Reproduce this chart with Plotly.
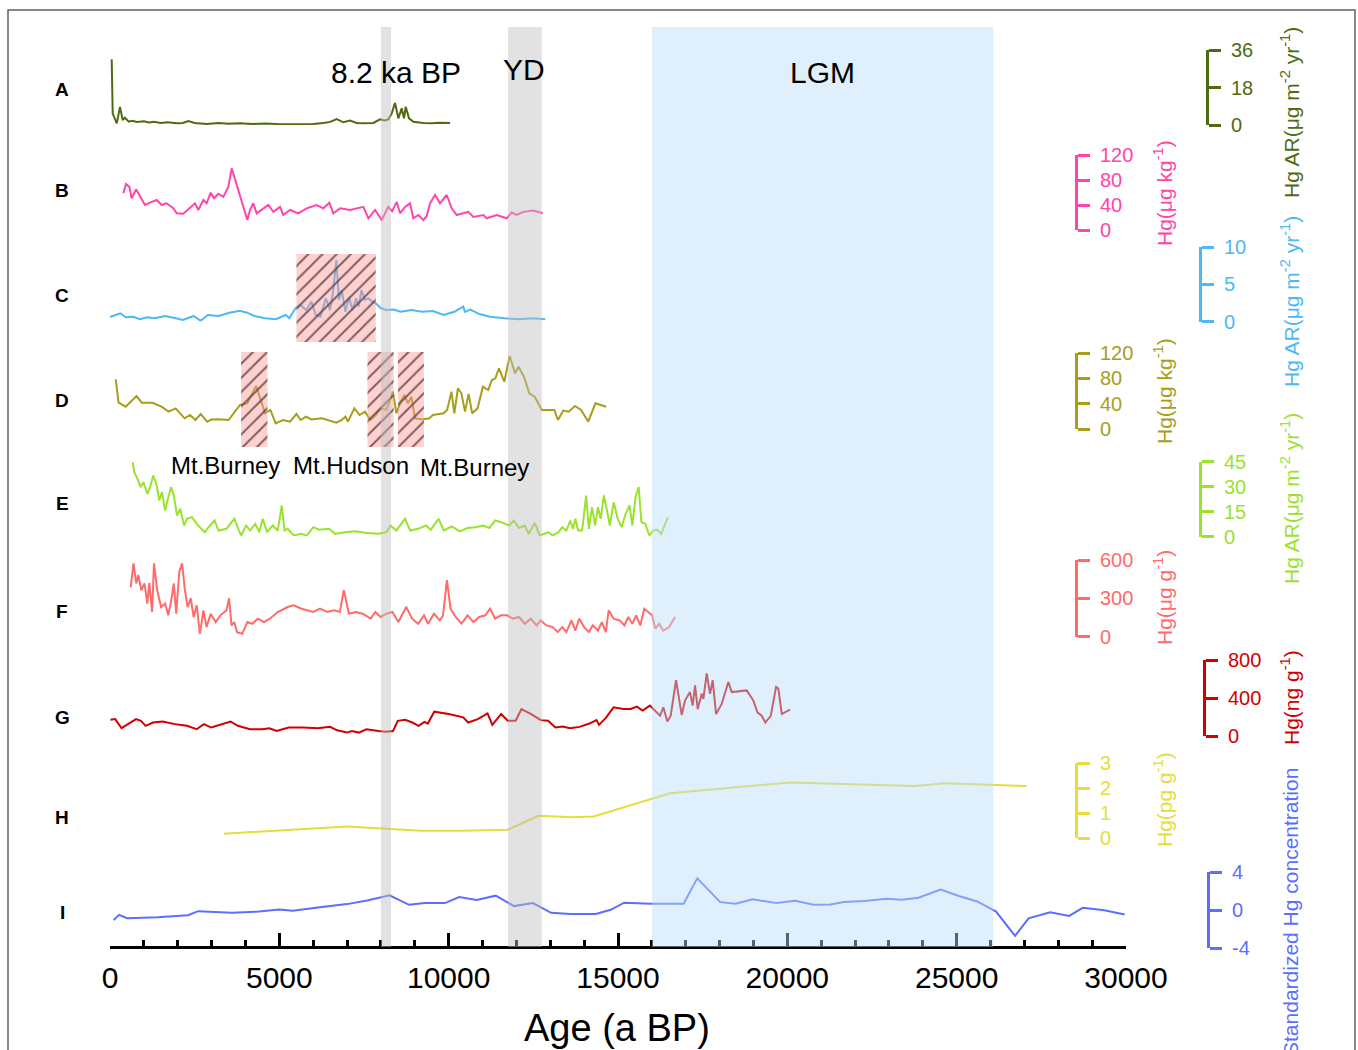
import plotly.graph_objects as go

W, H = 1358, 1050
FONT = "Arial, Liberation Sans, sans-serif"


def px_x(x):
    return x / W


def px_y(y):
    return (H - y) / H


# ---------------- data (age in a BP, values) ----------------
A_age = [50, 80, 200, 295, 375, 440, 555, 650, 800, 1000,
         1150, 1300, 1500, 1700, 1969, 2150, 2313, 2500, 2855, 3200,
         3500, 3839, 4200, 4600, 5000, 5315, 5700, 6000, 6300, 6500,
         6693, 6890, 7087, 7284, 7500, 7776, 7973, 8100, 8219, 8317,
         8416, 8514, 8612, 8682, 8731, 8830, 8958, 9100, 9250, 9500,
         9750, 10040]
A_val = [31.6, 5.5, 0.8, 8.7, 2.4, 3.5, 1.6, 2.0, 1.4, 1.8,
         1.2, 1.5, 1.0, 1.3, 0.8, 1.0, 1.9, 1.0, 0.5, 0.9,
         0.6, 0.8, 0.5, 0.7, 0.4, 0.4, 0.6, 0.5, 1.0, 1.5,
         2.8, 1.3, 2.1, 1.0, 0.8, 1.0, 2.7, 2.2, 2.7, 5.5,
         10.6, 3.2, 8.0, 3.2, 8.7, 3.2, 1.6, 1.2, 1.0, 0.8,
         1.1, 0.9]

B_age = [394, 472, 571, 640, 768, 886, 1034, 1181, 1378, 1526,
         1673, 1870, 1969, 2165, 2362, 2510, 2608, 2756, 2855, 2973,
         3071, 3199, 3347, 3494, 3593, 3671, 3790, 3937, 4055, 4134,
         4232, 4331, 4528, 4675, 4823, 5020, 5118, 5315, 5561, 5807,
         6103, 6300, 6477, 6595, 6792, 7087, 7481, 7629, 7825, 8022,
         8219, 8330, 8465, 8564, 8711, 8859, 8957, 9105, 9252, 9350,
         9450, 9597, 9745, 9942, 10090, 10237, 10581, 10729, 11024, 11122,
         11418, 11713, 11861, 12009, 12205, 12500, 12777]
B_val = [58.7, 73.6, 69, 50.7, 65, 53, 40, 43.7, 48, 40,
         42.7, 34.7, 26.7, 26, 34.7, 42.7, 32, 48, 42.7, 59.7,
         50.7, 58, 53, 69, 98.7, 85, 64, 37, 16, 32,
         42.7, 26.7, 34.7, 40, 29, 37, 24, 32, 26.7, 34.7,
         40, 34.7, 43.7, 26.7, 34.7, 32, 37, 18.7, 32, 16,
         37, 30, 45, 26.7, 37, 42.7, 18.7, 24, 16, 22,
         42.7, 56, 42.7, 56, 34.7, 24, 29, 21, 24, 18.7,
         24, 18.7, 28, 24, 29, 31, 26.7]

C_age = [-41, 307, 464, 676, 886, 1096, 1308, 1624, 1940, 2152,
         2468, 2679, 2890, 3206, 3522, 3839, 4049, 4261, 4577, 4893,
         5188, 5295, 5475, 5631, 5788, 5947, 6074, 6213, 6370, 6497,
         6582, 6685, 6760, 6845, 6951, 7055, 7161, 7268, 7341, 7424,
         7530, 7636, 7740, 7846, 8003, 8162, 8375, 8584, 8900, 9216,
         9535, 9851, 10167, 10430, 10483, 10642, 10905, 11221, 11643, 12065,
         12488, 12857]
C_val = [0.56, 1.1, 0.56, 0.64, 0.3, 0.56, 0.43, 0.74, 0.43, 0.2,
         0.74, 0.1, 0.87, 0.74, 1.18, 1.45, 1.18, 0.74, 0.43, 0.3,
         0.87, 0.43, 1.77, 2.2, 1.54, 2.66, 0.87, 0.64, 3.1, 1.54,
         3.8, 8.26, 2.9, 4.2, 1.3, 3.3, 1.54, 3.1, 2.0, 4.2,
         2.9, 3.1, 2.66, 2.44, 1.77, 1.54, 1.6, 1.3, 1.54, 1.3,
         1.4, 0.87, 1.3, 2.0, 1.3, 1.6, 1.0, 0.64, 0.43, 0.3,
         0.43, 0.3]

D_age = [169, 253, 464, 780, 938, 1255, 1518, 1730, 1940, 2203,
         2362, 2522, 2679, 2868, 2994, 3206, 3502, 3680, 3839, 4049,
         4315, 4450, 4577, 4736, 4893, 5106, 5315, 5505, 5631, 5788,
         5947, 6263, 6685, 6845, 6951, 7025, 7214, 7371, 7530, 7689,
         7846, 8003, 8162, 8354, 8457, 8584, 8690, 8797, 8900, 9006,
         9216, 9429, 9535, 9851, 9955, 10082, 10167, 10273, 10377, 10483,
         10589, 10693, 10852, 11012, 11169, 11275, 11381, 11485, 11643, 11800,
         11960, 12065, 12222, 12382, 12539, 12751, 13120, 13226, 13383, 13542,
         13731, 13911, 14121, 14334, 14650]
D_val = [78.5, 41.5, 35.2, 52, 41.5, 41.5, 35.2, 27.4, 32.6, 16.9,
         22.1, 14.2, 23.7, 11.6, 15, 15.3, 14.2, 27.4, 37.9, 40.6,
         67.9, 45.8, 24.8, 30, 9, 14.2, 11.6, 23.7, 14.2, 19.5,
         15, 16.9, 10, 14.2, 19.5, 11.6, 32.6, 22.1, 27.4, 14.2,
         22.1, 32.6, 30, 59, 24.8, 43.1, 53.7, 40.6, 51, 16.9,
         15, 16.9, 22.1, 24.8, 30, 59, 24.8, 64.3, 56.4, 27.4,
         55.4, 24.8, 32.6, 66.8, 61.5, 77.4, 80, 95.9, 74.7, 115.3,
         88, 98.4, 82.6, 56.4, 51, 30, 30, 14.2, 29, 27.4,
         36.3, 30, 11.6, 40.6, 35.2]

E_age = [671, 718, 833, 904, 987, 1102, 1185, 1277, 1370, 1453,
         1534, 1627, 1722, 1802, 1884, 1979, 2071, 2188, 2268, 2421,
         2561, 2794, 2912, 3087, 3204, 3438, 3671, 3869, 4019, 4137,
         4288, 4406, 4510, 4639, 4802, 4953, 5071, 5153, 5245, 5422,
         5656, 5806, 6004, 6178, 6471, 6644, 6937, 7229, 7580, 7929,
         8162, 8280, 8454, 8711, 8865, 9098, 9331, 9471, 9704, 9857,
         10091, 10324, 10557, 10790, 11024, 11198, 11372, 11549, 11782, 11921,
         12075, 12249, 12364, 12541, 12692, 12949, 13067, 13241, 13356, 13475,
         13590, 13672, 13743, 13823, 13941, 14059, 14139, 14233, 14325, 14408,
         14490, 14582, 14676, 14759, 14874, 14992, 15107, 15226, 15341, 15424,
         15518, 15610, 15692, 15807, 15925, 16041, 16159, 16274, 16475]
E_val = [44.6, 38.6, 33.6, 29.6, 32.6, 25.6, 29.6, 36.6, 31.6, 21.6,
         26.6, 15.6, 23.6, 29.6, 24.6, 12.6, 16.6, 6.6, 10.6, 11.6,
         7.6, 2.6, 5.6, 9.6, 3.6, 4.6, 10.6, 0.6, 6.6, 3.6,
         7.6, 2.6, 10.6, 2.6, 6.6, 3.6, 18.6, 3.6, 4.6, 0.6,
         1.6, 0.5, 5.6, 4.1, 4.6, 1.6, 2.6, 3.1, 2.1, 1.6,
         2.6, 6.6, 3.6, 10.6, 3.6, 4.6, 6.6, 4.1, 10.6, 3.6,
         6.1, 3.1, 5.1, 5.6, 6.6, 5.1, 9.6, 8.6, 6.6, 9.6,
         5.1, 6.6, 1.6, 8.1, 0.6, 2.6, 0.6, 2.6, 5.6, 3.6,
         9.6, 4.6, 10.6, 3.6, 3.6, 24.6, 4.6, 17.6, 6.6, 17.6,
         10.6, 24.6, 15.6, 6.6, 20.6, 10.6, 5.6, 13.6, 18.6, 6.6,
         23.6, 29.6, 8.6, 7.6, 0.6, 3.6, 4.1, 1.6, 11.6]

F_age = [611, 694, 775, 833, 927, 1019, 1102, 1160, 1243, 1299,
         1394, 1509, 1627, 1722, 1802, 1884, 1955, 2046, 2129, 2212,
         2292, 2386, 2468, 2561, 2654, 2758, 2853, 2971, 3121, 3260,
         3438, 3517, 3588, 3671, 3750, 3904, 4055, 4196, 4370, 4548,
         4719, 4953, 5245, 5422, 5656, 5806, 6004, 6201, 6414, 6623,
         6786, 6904, 7055, 7253, 7462, 7695, 7837, 7988, 8162, 8340,
         8513, 8747, 8921, 9098, 9272, 9391, 9565, 9739, 9833, 9949,
         10055, 10206, 10380, 10557, 10731, 10905, 11083, 11221, 11372, 11549,
         11723, 11897, 12075, 12249, 12423, 12597, 12715, 12889, 13067, 13217,
         13356, 13475, 13625, 13743, 13858, 14000, 14139, 14254, 14408, 14523,
         14641, 14723, 14874, 15048, 15190, 15305, 15424, 15539, 15657, 15775,
         15890, 16008, 16100, 16218, 16336, 16510, 16684]
F_val = [385, 574, 416, 482, 363, 416, 258, 420, 192, 574,
         363, 231, 258, 166, 274, 416, 179, 508, 574, 363,
         231, 300, 153, 245, 21, 205, 74, 179, 113, 166,
         205, 300, 87, 113, 34, 21, 113, 100, 140, 113,
         140, 192, 231, 245, 218, 205, 192, 218, 192, 205,
         192, 363, 179, 192, 179, 140, 192, 153, 179, 192,
         113, 231, 140, 100, 166, 100, 179, 126, 166, 442,
         218, 153, 100, 166, 113, 153, 166, 218, 140, 166,
         166, 140, 153, 100, 140, 87, 126, 87, 74, 34,
         74, 34, 126, 47, 140, 74, 34, 87, 47, 113,
         34, 205, 140, 126, 87, 153, 100, 166, 87, 218,
         192, 166, 61, 100, 47, 74, 153]

G_age = [12, 154, 340, 555, 768, 912, 1055, 1270, 1556, 1914,
         2271, 2557, 2773, 2989, 3275, 3561, 3775, 4134, 4491, 4707,
         4920, 5277, 5708, 6136, 6494, 6709, 6996, 7141, 7353, 7569,
         7926, 8142, 8357, 8499, 8715, 8927, 9113, 9287, 9386, 9574,
         10002, 10430, 10575, 10861, 11148, 11289, 11549, 11747, 11978, 12149,
         12435, 12721, 12937, 13150, 13365, 13581, 13867, 14154, 14366, 14440,
         14653, 14868, 15154, 15370, 15556, 15727, 15943, 16241, 16339, 16457,
         16557, 16714, 16881, 16979, 17126, 17205, 17275, 17354, 17472, 17521,
         17619, 17718, 17797, 17895, 18063, 18259, 18357, 18801, 18998, 19116,
         19244, 19348, 19510, 19667, 19735, 19836, 20080]
G_val = [171, 178, 82, 131, 178, 160, 107, 142, 153, 125,
         107, 71, 125, 89, 125, 153, 107, 71, 71, 82,
         53, 89, 89, 82, 96, 60, 36, 53, 36, 71,
         53, 46, 53, 160, 171, 142, 107, 149, 131, 256,
         231, 196, 142, 178, 238, 117, 231, 160, 160, 284,
         231, 167, 160, 89, 100, 82, 96, 131, 167, 117,
         196, 302, 284, 284, 309, 267, 320, 213, 302, 153,
         213, 587, 222, 373, 462, 320, 533, 284, 444, 391,
         658, 444, 587, 231, 338, 569, 462, 480, 373, 249,
         213, 142, 213, 515, 498, 231, 277]

H_age = [3364, 6996, 9193, 10391, 11750, 12648, 13685, 14283, 16539, 20074,
         23768, 24666, 27064]
H_val = [0.17, 0.46, 0.29, 0.29, 0.33, 0.89, 0.83, 0.86, 1.79, 2.22,
         2.08, 2.19, 2.08]

I_age = [109, 269, 508, 1405, 2303, 2604, 3603, 4400, 4999, 5398,
         6197, 6996, 7595, 8254, 8832, 9292, 9892, 10312, 10829, 11390,
         11927, 12488, 13025, 13587, 14345, 14783, 15181, 15981, 16938, 17340,
         18019, 18476, 18975, 19675, 20233, 20774, 21270, 21672, 22271, 22929,
         23369, 23868, 24527, 25065, 25605, 26163, 26724, 27123, 27761, 28322,
         28721, 29359, 29958]
I_val = [-1.05, -0.51, -0.87, -0.77, -0.55, -0.12, -0.3, -0.16, 0.05, -0.09,
         0.3, 0.62, 1.01, 1.55, 0.55, 0.73, 0.73, 1.37, 1.05, 1.51,
         0.41, 0.73, -0.3, -0.41, -0.41, 0.02, 0.77, 0.66, 0.66, 3.33,
         0.83, 0.66, 1.12, 0.73, 0.98, 0.55, 0.59, 0.83, 0.94, 1.19,
         1.08, 1.3, 2.15, 1.48, 0.9, -0.16, -2.72, -0.87, -0.23, -0.62,
         0.23, -0.02, -0.48]

# climatic periods (a BP)
period_names = ["8.2 ka BP", "YD", "LGM"]
period_start = [8000, 11750, 16000]
period_end = [8300, 12750, 26080]

# volcanic eruption intervals (a BP)
volcano_C_start = [5505]
volcano_C_end = [7846]
volcano_D_start = [3871, 7604, 8502]
volcano_D_end = [4651, 8375, 9269]
volcano_names = ["Mt.Burney", "Mt.Hudson", "Mt.Burney"]

x_ticks = [0, 5000, 10000, 15000, 20000, 25000, 30000]
x_ticktext = ["0", "5000", "10000", "15000", "20000", "25000", "30000"]

# ---------------- layout constants ----------------
series = [
    dict(k="A", age=A_age, val=A_val, color="#4E6B12", ybot=125, ytop=50, rng=[0, 36], tv=[0, 18, 36],
         ax=1207, title="Hg AR(μg m<sup>-2</sup> yr<sup>-1</sup>)", tx=1290, ty=113, ly=89),
    dict(k="B", age=B_age, val=B_val, color="#FF45A8", ybot=230, ytop=155, rng=[0, 120], tv=[0, 40, 80, 120],
         ax=1076, title="Hg(μg kg<sup>-1</sup>)", tx=1163, ty=193, ly=190),
    dict(k="C", age=C_age, val=C_val, color="#4DB8F5", ybot=321.5, ytop=247, rng=[0, 10], tv=[0, 5, 10],
         ax=1200, title="Hg AR(μg m<sup>-2</sup> yr<sup>-1</sup>)", tx=1290, ty=302, ly=295),
    dict(k="D", age=D_age, val=D_val, color="#A99D1A", ybot=429, ytop=353, rng=[0, 120], tv=[0, 40, 80, 120],
         ax=1076, title="Hg(μg kg<sup>-1</sup>)", tx=1163, ty=391, ly=400),
    dict(k="E", age=E_age, val=E_val, color="#9BE22E", ybot=536.5, ytop=461.5, rng=[0, 45], tv=[0, 15, 30, 45],
         ax=1200, title="Hg AR(μg m<sup>-2</sup> yr<sup>-1</sup>)", tx=1290, ty=499, ly=503),
    dict(k="F", age=F_age, val=F_val, color="#FF6B6B", ybot=636.5, ytop=560, rng=[0, 600], tv=[0, 300, 600],
         ax=1076, title="Hg(μg g<sup>-1</sup>)", tx=1163, ty=598, ly=611),
    dict(k="G", age=G_age, val=G_val, color="#D00000", ybot=736, ytop=660, rng=[0, 800], tv=[0, 400, 800],
         ax=1204, title="Hg(ng g<sup>-1</sup>)", tx=1290, ty=698, ly=717),
    dict(k="H", age=H_age, val=H_val, color="#E6DC3C", ybot=838, ytop=763, rng=[0, 3], tv=[0, 1, 2, 3],
         ax=1076, title="Hg(pg g<sup>-1</sup>)", tx=1163, ty=800, ly=818),
    dict(k="I", age=I_age, val=I_val, color="#5A6EFF", ybot=948, ytop=872, rng=[-4, 4], tv=[-4, 0, 4],
         ax=1208, title="Standardized Hg concentration", tx=1290, ty=912, ly=912),
]

X0_PX, X1_PX, XAXIS_Y = 110, 1126, 947
BAND_TOP = 27

fig = go.Figure()
layout = dict(
    template="none",
    width=W, height=H, margin=dict(l=0, r=0, t=0, b=0, pad=0, autoexpand=False),
    paper_bgcolor="white", plot_bgcolor="rgba(0,0,0,0)",
    showlegend=False, font=dict(family=FONT, color="black"),
    xaxis=dict(domain=[px_x(X0_PX), px_x(X1_PX)], range=[0, 30000], anchor="free",
               position=px_y(XAXIS_Y), showline=True, linecolor="black", linewidth=3,
               ticks="inside", ticklen=13, tickwidth=2.5, tickcolor="black",
               tickvals=x_ticks, ticktext=x_ticktext, automargin=False,
               tickfont=dict(size=30, family=FONT, color="black"),
               ticklabelstandoff=3,
               minor=dict(dtick=1000, tick0=0, ticks="inside", ticklen=6, tickwidth=2.5,
                          tickcolor="black", showgrid=False),
               showgrid=False, zeroline=False),
)

annotations = []
for i, s in enumerate(series):
    yname = "y" if i == 0 else f"y{i + 1}"
    lname = "yaxis" if i == 0 else f"yaxis{i + 1}"
    fig.add_trace(go.Scatter(x=s["age"], y=s["val"], mode="lines", xaxis="x", yaxis=yname,
                             line=dict(color=s["color"], width=2), hoverinfo="skip"))
    layout[lname] = dict(domain=[px_y(s["ybot"]), px_y(s["ytop"])], range=s["rng"], anchor="free",
                         position=px_x(s["ax"]), side="right", showline=True, linecolor=s["color"],
                         linewidth=3, ticks="outside", ticklen=12, tickwidth=3, tickcolor=s["color"],
                         tickvals=s["tv"], ticktext=[str(v) for v in s["tv"]], automargin=False,
                         tickfont=dict(size=20, family=FONT, color=s["color"]),
                         ticklabelstandoff=6, showgrid=False, zeroline=False)
    annotations.append(dict(x=px_x(s["tx"]), y=px_y(s["ty"]), xref="paper", yref="paper",
                            text=s["title"], textangle=-90, showarrow=False,
                            font=dict(size=21, family=FONT, color=s["color"]),
                            xanchor="center", yanchor="middle"))
    annotations.append(dict(x=px_x(62), y=px_y(s["ly"]), xref="paper", yref="paper",
                            text=f"<b>{s['k']}</b>", showarrow=False,
                            font=dict(size=19, family=FONT, color="black"),
                            xanchor="center", yanchor="middle"))

# hidden full-height axis (pixel units) for hatched volcanic boxes
layout["yaxis10"] = dict(domain=[0, 1], range=[H, 0], anchor="free", position=0, visible=False,
                         showgrid=False, zeroline=False, automargin=False)
boxes = [(a0, a1, 254, 342) for a0, a1 in zip(volcano_C_start, volcano_C_end)] + \
        [(a0, a1, 352, 447) for a0, a1 in zip(volcano_D_start, volcano_D_end)]
for a0, a1, top, bot in boxes:
    fig.add_trace(go.Scatter(x=[a0, a1, a1, a0, a0], y=[top, top, bot, bot, top], xaxis="x", yaxis="y10",
                             mode="lines", fill="toself", line=dict(width=0, color="rgba(0,0,0,0)"),
                             fillcolor="rgba(255,150,150,0.45)",
                             fillpattern=dict(shape="/", size=10, solidity=0.2,
                                              fgcolor="rgba(90,65,65,0.8)",
                                              bgcolor="rgba(255,150,150,0.45)", fillmode="replace"),
                             hoverinfo="skip"))

shapes = []
band_colors = ["rgba(190,190,190,0.45)", "rgba(190,190,190,0.45)", "rgba(184,222,249,0.45)"]
for a0, a1, c in zip(period_start, period_end, band_colors):
    shapes.append(dict(type="rect", xref="x", yref="paper", x0=a0, x1=a1,
                       y0=px_y(XAXIS_Y), y1=px_y(BAND_TOP), fillcolor=c, line=dict(width=0),
                       layer="above"))
# figure frame
shapes.append(dict(type="rect", xref="paper", yref="paper", x0=px_x(8), x1=px_x(1355),
                   y0=-0.02, y1=px_y(10), line=dict(color="#606060", width=1.5),
                   fillcolor="rgba(0,0,0,0)", layer="below"))

# period labels
for name, cx, cy in zip(period_names, [396, 524, 822], [72, 70, 72]):
    annotations.append(dict(x=px_x(cx), y=px_y(cy), xref="paper", yref="paper", text=name,
                            showarrow=False, font=dict(size=30, family=FONT, color="black"),
                            xanchor="center", yanchor="middle"))
# volcano labels
for name, cx, cy in zip(volcano_names, [225, 351, 474], [465, 465, 467]):
    annotations.append(dict(x=px_x(cx), y=px_y(cy), xref="paper", yref="paper", text=name,
                            showarrow=False, font=dict(size=24, family=FONT, color="black"),
                            xanchor="center", yanchor="middle"))
# x axis title
annotations.append(dict(x=px_x(617), y=px_y(1028), xref="paper", yref="paper", text="Age (a BP)",
                        showarrow=False, font=dict(size=38, family=FONT, color="black"),
                        xanchor="center", yanchor="middle"))

layout["shapes"] = shapes
layout["annotations"] = annotations
fig.update_layout(**layout)
fig.write_html("out.html",
               post_script="document.body.style.margin='0';document.body.style.overflow='hidden';")
